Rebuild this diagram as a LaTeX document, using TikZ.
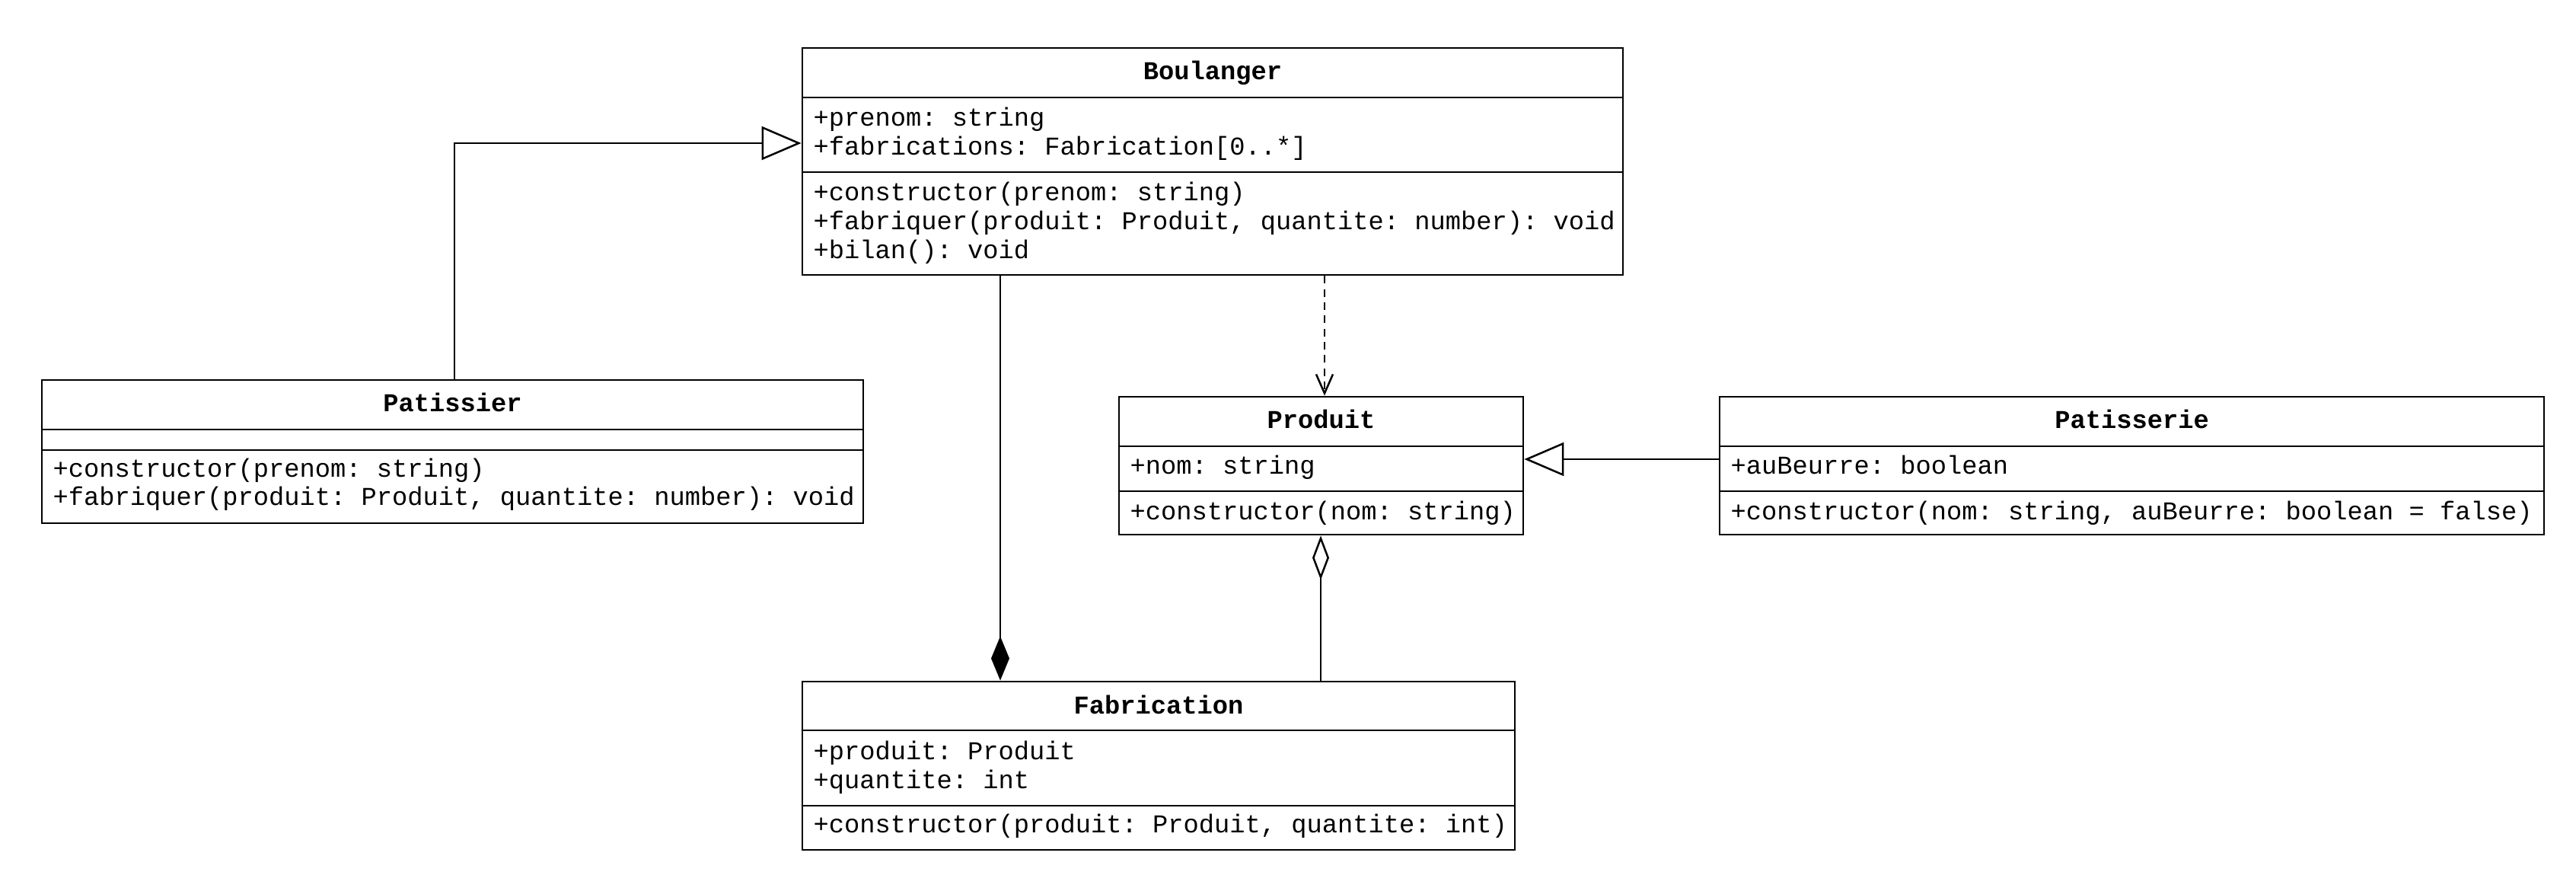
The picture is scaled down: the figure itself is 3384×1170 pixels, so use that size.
\documentclass[tikz,border=0pt]{standalone}
\usepackage{fontspec}
\setmonofont{Liberation Mono}
\usetikzlibrary{arrows.meta,fit}
\begin{document}
\begin{tikzpicture}[x=0.3pt,y=-0.3pt,
  classbox/.style={draw,line width=0.85pt,inner sep=0pt},
  divider/.style={line width=0.85pt},
  title/.style={anchor=base,inner sep=0pt,font=\ttfamily\bfseries\fontsize{10.125}{12}\selectfont},
  member/.style={anchor=base west,inner sep=0pt,font=\ttfamily\fontsize{10.125}{12}\selectfont},
  link/.style={line width=0.75pt},
  gen/.style={link,-{Triangle[open,length=15.6pt,width=13.2pt]}},
  dep/.style={link,dash pattern=on 3pt off 2.2pt,-{Straight Barb[length=7.5pt,width=6.6pt]}},
  comp/.style={link,-{Diamond[length=17.4pt,width=7.2pt]}},
  aggr/.style={link,-{Diamond[open,length=17.4pt,width=6.6pt]}}]
\fill[white] (0,0) rectangle (3384,1170);
\useasboundingbox (0,0) rectangle (3384,1170);

% Boulanger
\node[classbox,fit={(1054,63) (2132,361)}] (boul) {};
\draw[divider] (boul.west |- 0,128) -- (boul.east |- 0,128);
\draw[divider] (boul.west |- 0,226) -- (boul.east |- 0,226);
\node[title] (boul-t) at (boul.north |- 0,105) {Boulanger};
\node[member] (boul-a1) at (1068,166) {+prenom: string};
\node[member] (boul-a2) at (1068,204) {+fabrications: Fabrication[0..*]};
\node[member] (boul-m1) at (1068,264) {+constructor(prenom: string)};
\node[member] (boul-m2) at (1068,302) {+fabriquer(produit: Produit, quantite: number): void};
\node[member] (boul-m3) at (1068,340) {+bilan(): void};

% Patissier
\node[classbox,fit={(55,499) (1134,687)}] (pat) {};
\draw[divider] (pat.west |- 0,564) -- (pat.east |- 0,564);
\draw[divider] (pat.west |- 0,591) -- (pat.east |- 0,591);
\node[title] (pat-t) at (pat.north |- 0,541) {Patissier};
\node[member] (pat-m1) at (69,626) {+constructor(prenom: string)};
\node[member] (pat-m2) at (69,664) {+fabriquer(produit: Produit, quantite: number): void};

% Produit
\node[classbox,fit={(1470,521) (2001,702)}] (prod) {};
\draw[divider] (prod.west |- 0,586) -- (prod.east |- 0,586);
\draw[divider] (prod.west |- 0,645) -- (prod.east |- 0,645);
\node[title] (prod-t) at (prod.north |- 0,563) {Produit};
\node[member] (prod-a1) at (1484,623) {+nom: string};
\node[member] (prod-m1) at (1484,683) {+constructor(nom: string)};

% Patisserie
\node[classbox,fit={(2259,521) (3342,702)}] (pats) {};
\draw[divider] (pats.west |- 0,586) -- (pats.east |- 0,586);
\draw[divider] (pats.west |- 0,645) -- (pats.east |- 0,645);
\node[title] (pats-t) at (pats.north |- 0,563) {Patisserie};
\node[member] (pats-a1) at (2273,623) {+auBeurre: boolean};
\node[member] (pats-m1) at (2273,683) {+constructor(nom: string, auBeurre: boolean = false)};

% Fabrication
\node[classbox,fit={(1054,895) (1990,1116)}] (fab) {};
\draw[divider] (fab.west |- 0,959) -- (fab.east |- 0,959);
\draw[divider] (fab.west |- 0,1058) -- (fab.east |- 0,1058);
\node[title] (fab-t) at (fab.north |- 0,937) {Fabrication};
\node[member] (fab-a1) at (1068,997) {+produit: Produit};
\node[member] (fab-a2) at (1068,1035) {+quantite: int};
\node[member] (fab-m1) at (1068,1093) {+constructor(produit: Produit, quantite: int)};

% Connectors
\draw[gen] (pat.north -| 597,0) |- (boul.west |- 0,188);
\draw[gen] (pats.west |- 0,603) -- (prod.east |- 0,603);
\draw[dep] (boul.south -| 1740,0) -- (prod.north -| 1740,0);
\draw[comp] (boul.south -| 1314,0) -- (fab.north -| 1314,0);
\draw[aggr] (fab.north -| 1735,0) -- (prod.south -| 1735,0);
\end{tikzpicture}
\end{document}
